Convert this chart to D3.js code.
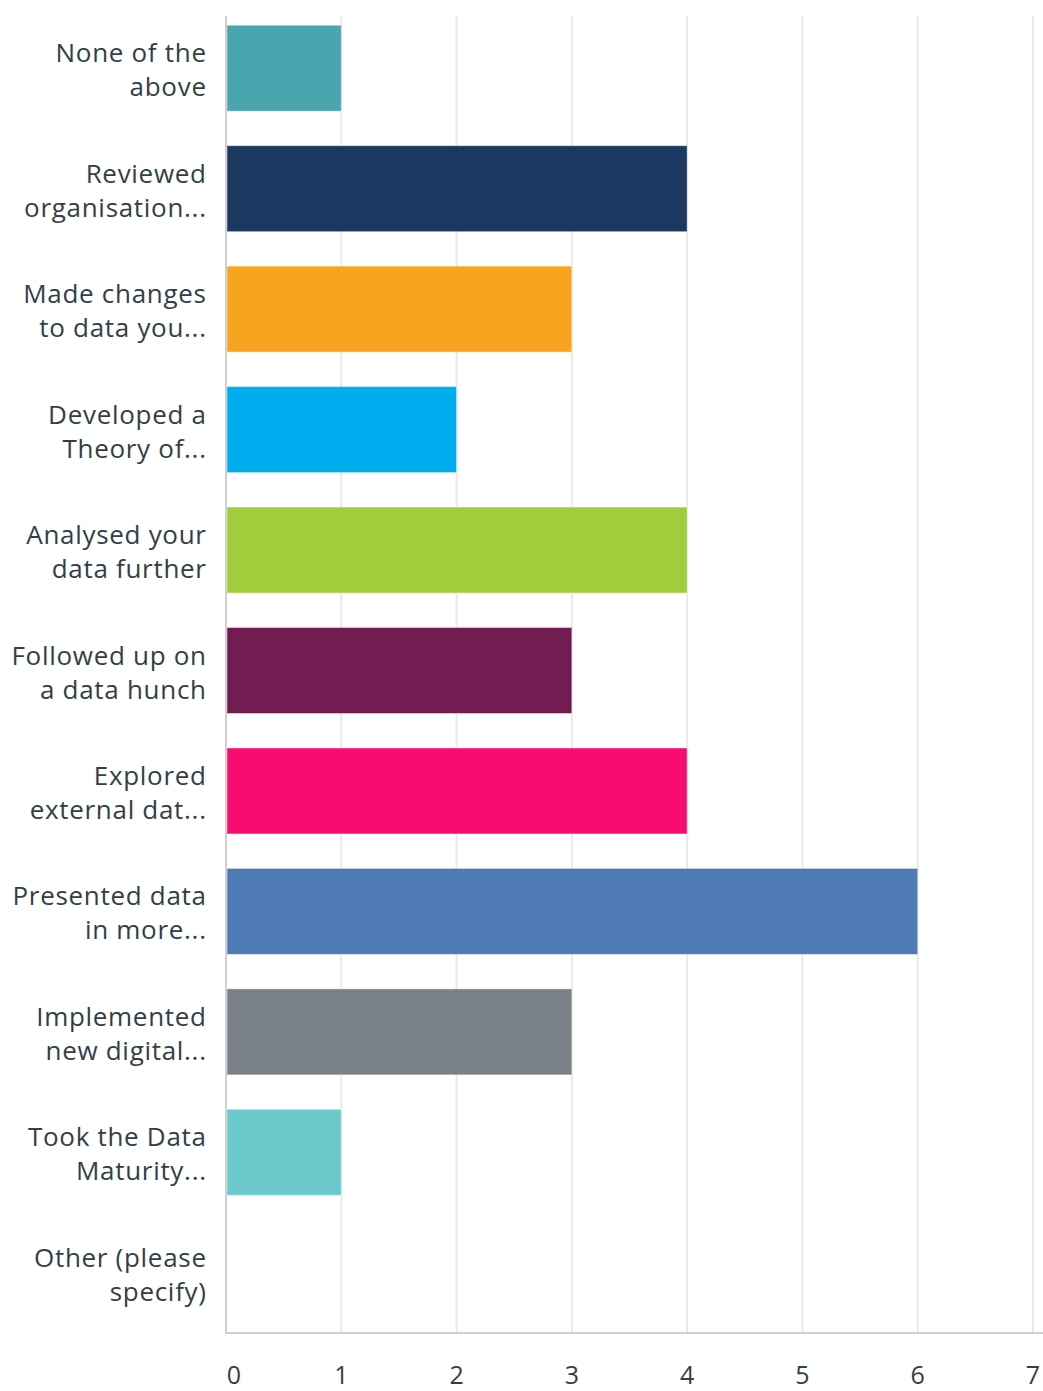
<!DOCTYPE html>
<html>
<head>
<meta charset="utf-8">
<script src="https://cdn.jsdelivr.net/npm/d3@7"></script>
<style>
  html, body { margin: 0; padding: 0; background: #fff; }
  svg { display: block; }
  text { font-family: "Open Sans", "Noto Sans", sans-serif; fill: #333e48; }
</style>
</head>
<body>
<svg id="chart" width="1043" height="1391"></svg>
<script>
// Survey answers (each label is split into the two lines drawn on the axis)
const labelLines = [
  ["None of the", "above"],
  ["Reviewed", "organisation..."],
  ["Made changes", "to data you..."],
  ["Developed a", "Theory of..."],
  ["Analysed your", "data further"],
  ["Followed up on", "a data hunch"],
  ["Explored", "external dat..."],
  ["Presented data", "in more..."],
  ["Implemented", "new digital..."],
  ["Took the Data", "Maturity..."],
  ["Other (please", "specify)"]
];
const categories = labelLines.map(l => l.join(" "));
const counts = [1, 4, 3, 2, 4, 3, 4, 6, 3, 1, 0];
const barColors = ["#49a5ae", "#1b3860", "#f7a51f", "#00aeef", "#a1cd3d",
                   "#731c52", "#f70d6f", "#4e7bb4", "#798088", "#6bc8cb", "#e0e0e0"];
const tickValues = [0, 1, 2, 3, 4, 5, 6, 7];

const svg = d3.select("#chart");
const plotLeft = 226, plotRight = 1033, plotTop = 8, plotBottom = 1333;

const x = d3.scaleLinear().domain([0, 7]).range([plotLeft, plotRight]);
const y = d3.scaleBand().domain(categories).range([plotTop, plotBottom])
  .paddingInner(0.286).paddingOuter(0.143);

// vertical gridlines
svg.append("g").selectAll("line").data(tickValues.slice(1)).join("line")
  .attr("x1", d => x(d)).attr("x2", d => x(d))
  .attr("y1", 16).attr("y2", plotBottom)
  .attr("stroke", "#e9e9e9").attr("stroke-width", 2);

// bars
svg.append("g").selectAll("rect").data(categories).join("rect")
  .attr("x", x(0) + 1)
  .attr("y", d => y(d))
  .attr("width", (d, i) => Math.max(0, x(counts[i]) - x(0) - 1))
  .attr("height", y.bandwidth())
  .attr("fill", (d, i) => barColors[i])
  .attr("stroke", "rgba(255,255,255,0.45)")
  .attr("stroke-width", 1)
  .style("display", (d, i) => counts[i] > 0 ? null : "none");

// axis lines
svg.append("line").attr("x1", plotLeft).attr("x2", plotLeft).attr("y1", 16).attr("y2", plotBottom + 1)
  .attr("stroke", "#d0d0d0").attr("stroke-width", 2);
svg.append("line").attr("x1", plotLeft).attr("x2", 1043).attr("y1", plotBottom).attr("y2", plotBottom)
  .attr("stroke", "#d0d0d0").attr("stroke-width", 2);

// category labels
const lab = svg.append("g").selectAll("text").data(categories).join("text")
  .attr("text-anchor", "end")
  .attr("font-size", 26)
  .attr("letter-spacing", 0.7);
lab.each(function (d, i) {
  const c = y(d) + y.bandwidth() / 2;
  const t = d3.select(this);
  t.append("tspan").attr("x", 206.7).attr("y", c - 6).text(labelLines[i][0]);
  t.append("tspan").attr("x", 206.7).attr("y", c + 28).text(labelLines[i][1]);
});

// x tick labels
svg.append("g").selectAll("text").data(tickValues).join("text")
  .attr("x", d => x(d) + (d === 0 ? 8 : 0))
  .attr("y", 1384)
  .attr("text-anchor", "middle")
  .attr("font-size", 25)
  .text(d => d);
</script>
</body>
</html>
